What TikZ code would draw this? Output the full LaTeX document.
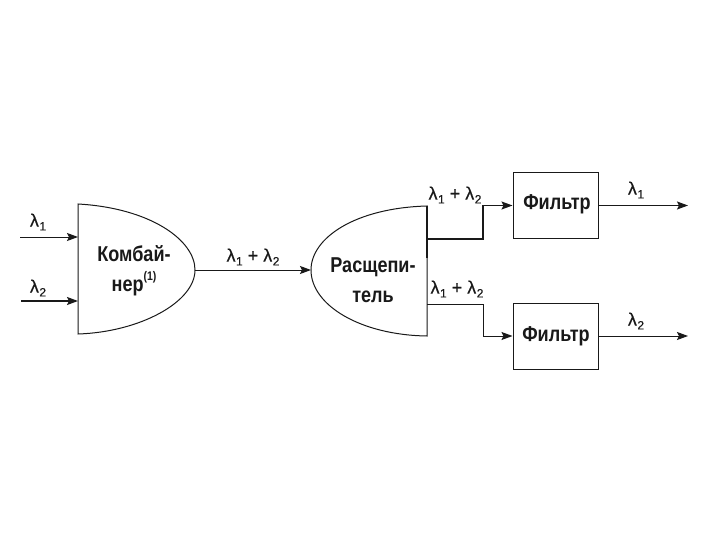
\documentclass[tikz,border=0pt]{standalone}
\usepackage{fontspec}
\setmainfont{Liberation Sans}
\newfontfamily\ttlfont[FakeStretch=0.84]{Liberation Sans Bold}
\newfontfamily\labfont[FakeBold=0.4]{Liberation Sans}
\usetikzlibrary{arrows.meta}
\newcommand{\lamsub}[1]{λ\kern0.5pt\raisebox{-0.4ex}{\fontsize{12}{12}\selectfont #1}}
\tikzset{
  x=1pt,y=-1pt,
  shapeline/.style={line width=1pt,black!90},
  link/.style={line width=1pt,black!90,-{Stealth[length=11pt,width=8pt,inset=2pt]}},
  title/.style={inner sep=0pt,align=center,font=\ttlfont\fontsize{21.5}{30}\selectfont,text=black!90},
  lab/.style={inner sep=0pt,font=\labfont\fontsize{18}{18}\selectfont,text=black!90},
  filterbox/.style={draw=black!90,line width=1pt,minimum width=85pt,minimum height=65pt,inner sep=0pt},
}
\begin{document}
\begin{tikzpicture}
\useasboundingbox (0,0) rectangle (720,540);
\fill[white] (0,0) rectangle (720,540);
% coordinates
\coordinate (cTop) at (78,204);
\coordinate (cBot) at (78,334);
\coordinate (cTip) at (195,270);
\coordinate (cIn1) at (78,237);
\coordinate (cIn2) at (78,301);
\coordinate (sTop) at (427,206);
\coordinate (sBot) at (427,336);
\coordinate (sTip) at (311,270);
\coordinate (sOut1) at (427,239);
\coordinate (sOut2) at (427,304);
\coordinate (in1) at (20,237);
\coordinate (in2) at (21,301);
\coordinate (out1) at (688,205.5);
\coordinate (out2) at (688,336);
% shapes
\draw[shapeline] (cTop) .. controls (150,208) and (195,240) .. (cTip)
   .. controls (195,302) and (140,332) .. (cBot) -- cycle;
\draw[shapeline] (sTop) .. controls (355,208) and (311,238) .. (sTip)
   .. controls (311,305) and (360,335) .. (sBot) -- cycle;
\draw[line width=1.5pt,black!90] (sTop) -- (sOut1) -- (427,258);
\node[filterbox] (f1) at (555.5,205.5) {};
\node[filterbox,minimum height=66pt] (f2) at (555.5,336) {};
% titles
\node[title] (tc) at (134,271) {Комбай-\\нер\raisebox{1.0ex}{\fontsize{12.5}{12}\selectfont(1)}};
\node[title] (ts) at (373,280) {Расщепи-\\тель};
\node[title] (tf1) at (557,204.5) {Фильтр};
\node[title] (tf2) at (556,336.5) {Фильтр};
% connectors
\draw[link] (in1) -- (cIn1);
\draw[link,line width=1.4pt] (in2) -- (cIn2);
\draw[link] (cTip) -- (sTip);
\draw[link,line width=1.5pt] (sOut1) -| (483,205.5) -- (f1.west);
\draw[link] (sOut2) -| (483,336) -- (f2.west);
\draw[link,line width=1.2pt] (f1.east) -- (out1);
\draw[link,line width=0.9pt] (f2.east) -- (out2);
% labels
\node[lab] (l1) at (38,222) {\lamsub{1}};
\node[lab] (l2) at (38,288) {\lamsub{2}};
\node[lab] (l3) at (253,257) {\lamsub{1} + \lamsub{2}};
\node[lab] (l4) at (455,195) {\lamsub{1} + \lamsub{2}};
\node[lab] (l5) at (457,289) {\lamsub{1} + \lamsub{2}};
\node[lab] (l6) at (636,190) {\lamsub{1}};
\node[lab] (l7) at (636,321) {\lamsub{2}};
\end{tikzpicture}
\end{document}
